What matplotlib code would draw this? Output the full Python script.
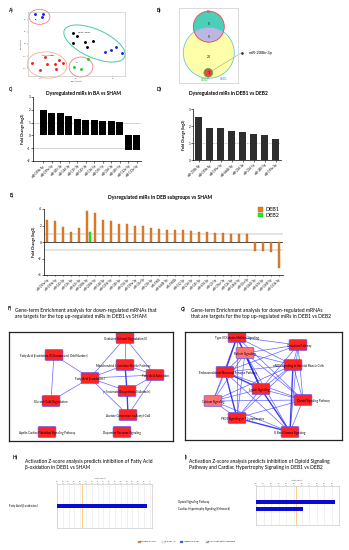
import numpy as np
import matplotlib
matplotlib.use("Agg")
import matplotlib.pyplot as plt
from matplotlib.patches import Ellipse, Circle, FancyBboxPatch, Rectangle

plt.rcParams['font.family'] = ['Lato', 'DejaVu Sans']

# ---------------- data ----------------
# A) PCA scores
pca_blue_x = [-8.6, -6.9, -7.1, 5.9, 7.1, 8.2, 9.4]
pca_blue_y = [6.2, 6.2, 5.6, -1.6, -1.2, -0.6, -1.9]
pca_black_x = [-0.8, 0.2, 1.7, 3.5, -0.7, 2.2]
pca_black_y = [2.3, 1.7, 0.35, 0.7, 0.15, -0.7]
pca_red_x = [-9.2, -6.5, -6.0, -4.4, -3.6, -2.7, -4.2, -7.5]
pca_red_y = [-3.9, -2.7, -4.1, -4.1, -3.3, -4.0, -5.2, -5.4]
pca_green_x = [-0.45, 0.9, 2.4]
pca_green_y = [-4.7, -5.2, -3.15]
pca_group_labels = ['BA', 'DEB1 + DEB2', 'SHAM + DEB2', 'SH']

# B) Venn counts: BA only, BA&DEB1, DEB1 only, DEB1&DEB2
venn_sets = ['BA', 'DEB1', 'DEB2']
venn_counts = [5, 5, 20, 1]
venn_note = 'miR-208b-3p'

# C) BA vs SHAM
c_labels = ['miR-199b-5p', 'miR-199a-5p', 'miR-455-3p', 'miR-144-3p', 'miR-125-3p',
            'miR-143-3p', 'miR-136-5p', 'miR-195-5p', 'miR-214-3p', 'miR-455-5p',
            'miR-122a-5p', 'miR-133a-5p']
c_values = [1.97, 1.72, 1.72, 1.5, 1.32, 1.22, 1.22, 1.13, 1.12, 1.07, -1.15, -1.15]

# D) DEB1 vs DEB2
d_labels = ['miR-208b-3p', 'miR-199b-5p', 'miR-199a-5p', 'miR-6644-3p', 'miR-214-3p',
            'miR-214-5p', 'miR-340-5p', 'miR-199a-3p']
d_values = [2.52, 1.87, 1.87, 1.74, 1.68, 1.56, 1.48, 1.24]

# E) DEB subgroups vs SHAM
e_labels = ['miR-199a-5p', 'miR-199b-5p', 'miR-143-3p', 'miR-136-5p', 'miR-455-5p',
            'miR-208b-3p', 'miR-208b-5p', 'miR-144-5p', 'miR-125b-5p', 'miR-340-5p',
            'miR-214-5p', 'miR-199a-3p', 'miR-34a-5p', 'miR-218-5p', 'miR-1983',
            'miR-6644-3p', 'miR-1983b', 'miR-152-3p', 'miR-214-3p', 'miR-145-5p',
            'miR-674-3p', 'miR-22-5p', 'miR-376c-3p', 'miR-126-5p', 'miR-146b-5p',
            'miR-10a-5p', 'miR-1843-3p', 'miR-674-5p', 'miR-3568-5p', 'miR-133b-3p']
e_deb1 = [2.63, 2.5, 1.82, 1.17, 1.7, 3.76, 3.56, 2.68, 2.5, 2.22,
          2.14, 1.9, 1.9, 1.7, 1.58, 1.45, 1.45, 1.45, 1.33, 1.21,
          1.21, 1.09, 1.05, 1.01, 0.97, 1.01, -1.13, -1.13, -1.25, -3.2]
e_deb2 = [np.nan] * 5 + [1.21] + [np.nan] * 24

# F) network
f_nodes = ['Oxidative Ethanol Degradation III',
           'Fatty Acid β-oxidation III (Unsaturated, Odd Number)',
           'Mitochondrial L-carnitine Shuttle Pathway',
           'Fatty Acid β-oxidation I',
           'Fatty Acid Activation',
           'γ-linolenate Biosynthesis II (Animals)',
           'Glutaryl-CoA Degradation',
           'Acetate Conversion to Acetyl-CoA',
           'Apelin Cardiac Fibroblast Signaling Pathway',
           'Dopamine Receptor Signaling']
f_edges = [(0, 2), (0, 3), (0, 4), (1, 3), (1, 6), (2, 3), (2, 4), (3, 4),
           (3, 5), (3, 6), (3, 7), (4, 5), (4, 7)]
f_thick = [(2, 5), (5, 7)]

# G) network
g_nodes = ['Type II Diabetes Mellitus Signaling', 'Relaxin Signaling', 'Ovulation Pathway',
           'nNOS Signaling in Skeletal Muscle Cells', 'Endocannabinoid Neuronal Synapse Pathway',
           'Leptin Signaling', 'Calcium Signaling', 'Opioid Signaling Pathway',
           'PKCθ Signaling in T Lymphocytes', 'G Beta Gamma Signaling']
g_light = [1, 6]
g_missing = [(2, 6), (0, 9), (2, 8)]
g_thick = [(0, 5), (1, 5), (4, 8), (5, 9), (4, 5), (8, 9), (3, 9), (0, 4)]

# H) / I) z-score
h_terms = ['Fatty Acid β-oxidation I']
h_values = [4.66]
i_terms = ['Opioid Signaling Pathway', 'Cardiac Hypertrophy Signaling (Enhanced)']
i_values = [2.6, 1.55]

# ---------------- layout helpers ----------------
W, H = 349, 550
fig = plt.figure(figsize=(W / 100, H / 100), dpi=100)


def axpx(l, t, r, b):
    return fig.add_axes([l / W, 1 - b / H, (r - l) / W, (b - t) / H])


texts = []


def ftxt(x, y, s, **kw):
    texts.append((x, y, s, kw))


# ---------------- A ----------------
axA = axpx(28, 12, 125, 76)
axA.set_xlim(-10, 10)
axA.set_ylim(-6.6, 6.6)
axA.scatter(pca_blue_x, pca_blue_y, s=1.2, color='#2222dd', zorder=3)
axA.scatter(pca_black_x, pca_black_y, s=1.2, color='black', zorder=3)
axA.scatter(pca_red_x, pca_red_y, s=1.2, color='#ee2222', zorder=3)
axA.scatter(pca_green_x, pca_green_y, s=1.2, color='#22cc22', zorder=3)
for e in [Ellipse((-7.63, 5.6), 4.3, 3.1, ec='#f08080', fc='none', lw=0.6),
          Ellipse((3.71, 0.1), 13.6, 5.8, angle=-24, ec='#44ccaa', fc='none', lw=0.7),
          Ellipse((-6.08, -4.33), 8.2, 5.4, angle=-5, ec='#f5b488', fc='none', lw=0.6),
          Ellipse((0.93, -4.74), 4.9, 4.1, ec='#f08080', fc='none', lw=0.6)]:
    e.set_clip_on(False)
    axA.add_patch(e)
for (x, y), s in zip([(-8.3, 5.0), (1.6, 2.3), (-5.9, -2.3), (0.2, -3.9)], pca_group_labels):
    axA.text(x, y, s, fontsize=1.4, ha='center', va='center')
axA.set_xticks([-7.5, 0, 7.5])
axA.set_yticks([-5, -2.5, 0, 2.5, 5])
axA.tick_params(labelsize=1.3, length=0.8, width=0.3, pad=0.5, colors='#555555')
for sp in axA.spines.values():
    sp.set_color('#bbbbbb')
    sp.set_linewidth(0.4)
axA.set_xlabel('PC1 (28.4%)', fontsize=1.4, labelpad=0.8)
axA.set_ylabel('PC2 (14.1%)', fontsize=1.4, labelpad=0.8)

# ---------------- B ----------------
axB = axpx(179, 8, 238, 83)
axB.set_xlim(179, 238)
axB.set_ylim(83, 8)
axB.set_xticks([])
axB.set_yticks([])
for sp in axB.spines.values():
    sp.set_color('#cccccc')
    sp.set_linewidth(0.5)
big = Circle((208.8, 52.8), 25.5, fc='#ffffaa', ec='none')
axB.add_patch(big)
axB.add_patch(Circle((208.8, 26.7), 15.5, fc='#4ccfb8', ec='none'))
inter = Circle((208.8, 26.7), 15.5, fc='#bcb6e2', ec='none')
axB.add_patch(inter)
inter.set_clip_path(big)
axB.add_patch(Circle((208.8, 52.8), 25.5, fill=False, ec='#66c4e4', lw=0.6))
axB.add_patch(Circle((208.8, 26.7), 15.5, fill=False, ec='#f04848', lw=0.6))
axB.add_patch(Circle((208.3, 72.8), 4.4, fc='#ee4444', ec='#44bb44', lw=0.5))
for (x, y), v in zip([(208.5, 24), (208.5, 36.7), (208.5, 57.3), (208.3, 72.7)], venn_counts):
    axB.text(x, y, str(v), fontsize=2.4, ha='center', va='center')
axB.text(208.5, 12.2, venn_sets[0], fontsize=2.2, color='#ee3333', ha='center', va='center')
axB.text(223.3, 78.8, venn_sets[1], fontsize=2.2, color='#3399dd', ha='center', va='center')
axB.text(204.3, 80.0, venn_sets[2], fontsize=2.2, color='#33bb33', ha='center', va='center')
axB.plot([212.5, 241.7], [70.5, 52.7], color='#999999', lw=0.35, clip_on=False)
axB.plot([241.7], [52.7], 'o', ms=0.9, color='#333333', clip_on=False)
ftxt(248.5, 52.7, venn_note, fontsize=3.0, ha='left', va='center')

# ---------------- C ----------------
axC = axpx(33, 97, 141, 161)
xc = np.arange(len(c_values))
axC.axhline(1, color='#cccccc', lw=0.6, zorder=0)
axC.axhline(-1, color='#cccccc', lw=0.6, zorder=0)
axC.bar(xc, c_values, width=0.78, color='black', zorder=2)
axC.set_ylim(-2, 3)
axC.set_xlim(-1.2, 11.5)
axC.set_yticks([-2, -1, 0, 1, 2, 3])
axC.set_xticks(xc)
axC.set_xticklabels(c_labels, rotation=45, ha='right', rotation_mode='anchor', fontsize=2.1)
axC.tick_params(axis='y', labelsize=2.2, length=1.2, width=0.4, pad=0.8)
axC.tick_params(axis='x', length=1.2, width=0.4, pad=0.8)
for s in ['top', 'right']:
    axC.spines[s].set_visible(False)
for s in ['left', 'bottom']:
    axC.spines[s].set_linewidth(0.5)
axC.set_ylabel('Fold Change (log2)', fontsize=2.6, weight='bold', labelpad=1.5)
ftxt(83, 94, 'Dysregulated miRs in BA vs SHAM', fontsize=3.5, weight='bold', ha='center', va='center')

# ---------------- D ----------------
axD = axpx(193, 109.3, 281, 160)
xd = np.arange(len(d_values))
axD.axhline(1, color='#aaaaaa', lw=0.5, ls=(0, (2, 1.5)), zorder=0)
axD.bar(xd, d_values, width=0.68, color='#2e2e2e', zorder=2)
axD.set_ylim(0, 3)
axD.set_xlim(-0.5, 7.5)
axD.set_yticks([0, 1, 2, 3])
axD.set_xticks(xd)
axD.set_xticklabels(d_labels, rotation=45, ha='right', rotation_mode='anchor', fontsize=2.1)
axD.tick_params(axis='y', labelsize=2.2, length=1.2, width=0.4, pad=0.8)
axD.tick_params(axis='x', length=1.2, width=0.4, pad=0.8)
for s in ['top', 'right']:
    axD.spines[s].set_visible(False)
for s in ['left', 'bottom']:
    axD.spines[s].set_linewidth(0.5)
axD.set_ylabel('Fold Change (log2)', fontsize=2.6, weight='bold', labelpad=1.5)
ftxt(228, 94, 'Dysregulated miRs in DEB1 vs DEB2', fontsize=3.5, weight='bold', ha='center', va='center')

# ---------------- E ----------------
axE = axpx(44, 209, 283, 275)
xe = np.arange(len(e_deb1))
axE.axhline(1, color='#dddddd', lw=1.1, zorder=0)
axE.axhline(-1, color='#dddddd', lw=1.1, zorder=0)
axE.axhline(0, color='black', lw=0.5, zorder=1)
axE.bar(xe, e_deb1, width=0.28, color='#ee7d22', edgecolor='#a45a1a', lw=0.25, zorder=2, label='DEB1')
axE.bar(xe + 0.38, e_deb2, width=0.28, color='#22ee22', edgecolor='#119911', lw=0.25, zorder=2, label='DEB2')
axE.set_ylim(-4, 4)
axE.set_xlim(-0.4, 29.5)
axE.set_yticks([-4, -2, 0, 2, 4])
axE.set_xticks(xe)
axE.set_xticklabels(e_labels, rotation=45, ha='right', rotation_mode='anchor', fontsize=2.0)
axE.tick_params(axis='y', labelsize=2.2, length=1.2, width=0.4, pad=0.8)
axE.tick_params(axis='x', length=1.0, width=0.4, pad=0.6)
for s in ['top', 'right']:
    axE.spines[s].set_visible(False)
for s in ['left', 'bottom']:
    axE.spines[s].set_linewidth(0.5)
axE.set_ylabel('Fold Change (log2)', fontsize=2.6, weight='bold', labelpad=1.5)
leg = axE.legend(loc='upper left', bbox_to_anchor=(0.88, 1.08), fontsize=4.0, frameon=False,
                 handlelength=1.0, handleheight=0.9, handletextpad=0.4, labelspacing=0.1,
                 borderpad=0.1)
ftxt(160, 198, 'Dysregulated miRs in DEB subgroups vs SHAM', fontsize=3.6, weight='bold',
     ha='center', va='center')


# ---------------- networks ----------------
def draw_network(ax, names, pos, label_dx, edges, thick, light, ext):
    l, t, r, b = ext
    ax.set_xlim(l, r)
    ax.set_ylim(b, t)
    ax.set_xticks([])
    ax.set_yticks([])
    for sp in ax.spines.values():
        sp.set_linewidth(0.9)
        sp.set_color('#222222')
    for (i, j) in edges:
        ax.plot([pos[i][0], pos[j][0]], [pos[i][1], pos[j][1]], color='#4a4aff',
                lw=0.5, alpha=0.85, zorder=1)
    for (i, j) in thick:
        ax.plot([pos[i][0], pos[j][0]], [pos[i][1], pos[j][1]], color='#2a2aee',
                lw=1.0, alpha=0.9, zorder=1)
    for k, name in enumerate(names):
        x, y = pos[k]
        fc = '#ff7070' if k in light else '#ff2424'
        ax.add_patch(FancyBboxPatch((x - 8.5, y - 5), 17, 10, boxstyle='round,pad=0.4,rounding_size=1',
                                    fc=fc, ec='#5050ff', lw=0.45, zorder=2))
        ax.text(x + label_dx[k], y + 1, name, fontsize=2.1, ha='center', va='center', zorder=3)


axF = axpx(9, 332, 173, 441)
f_pos = [(125, 338), (54, 355), (125, 365), (90, 378), (155, 375), (127, 391),
         (51, 401), (128, 415), (47, 432), (122, 432)]
f_dx = [0, 0, -2, 0, 0, 0, 0, 0, 0, 0]
draw_network(axF, f_nodes, f_pos, f_dx, f_edges, f_thick, [], (9, 332, 173, 441))

axG = axpx(185, 332, 342, 440)
g_pos = [(237, 337), (245, 353), (298, 345), (293, 365), (225, 372), (261, 389),
         (213, 401), (303, 400), (237, 418), (290, 432)]
g_dx = [0, 0, 1, 5, 3, -2, 0, 10, 5, 0]
g_edges = [(i, j) for i in range(len(g_nodes)) for j in range(i + 1, len(g_nodes))
           if (i, j) not in g_missing and (i, j) not in g_thick]
draw_network(axG, g_nodes, g_pos, g_dx, g_edges, g_thick, g_light, (185, 332, 342, 440))

ftxt(8, 308, 'F)', fontsize=3.4, weight='bold', ha='left', va='center')
ftxt(15, 313.5, 'Gene-term Enrichment analysis for down-regulated mRNAs that\n'
     'are targets for the top up-regulated miRs in DEB1 vs SHAM',
     fontsize=3.6, ha='left', va='center', linespacing=1.25)
ftxt(181, 309, 'G)', fontsize=3.4, weight='bold', ha='left', va='center')
ftxt(191, 313.5, 'Gene-term Enrichment analysis for down-regulated mRNAs\n'
     'that are targets for the top up-regulated miRs in DEB1 vs DEB2',
     fontsize=3.6, ha='left', va='center', linespacing=1.25)


# ---------------- H / I ----------------
def zbar(ax, values, ypos, xmax, ticks, thr, h):
    ax.barh(ypos, values, height=h, color='#0a0ad0', zorder=3)
    ax.set_xlim(0, xmax)
    ax.set_xticks(ticks)
    ax.set_xticklabels(['%.1f' % v for v in ticks])
    ax.xaxis.tick_top()
    ax.tick_params(axis='x', labelsize=1.3, length=0.8, width=0.3, pad=0.4, colors='#666666')
    ax.set_yticks([])
    ax.grid(axis='x', color='#e6e6e6', lw=0.4, zorder=0)
    ax.axvline(thr, color='#ffcc80', lw=0.7, zorder=1)
    for sp in ax.spines.values():
        sp.set_color('#cccccc')
        sp.set_linewidth(0.5)


axH = axpx(57, 484, 152, 528)
axH.set_ylim(3.14, -3.14)
zbar(axH, h_values, [0], 4.91, np.arange(0, 4.81, 0.3), 1.3, 0.45)
ftxt(100, 478, '-log(p-value)', fontsize=1.6, ha='center', va='center', color='#444444')
for k, term in enumerate(h_terms):
    ftxt(9, 506 + 7 * k, term, fontsize=2.0, ha='left', va='center')

axI = axpx(256, 486, 339, 525)
axI.set_ylim(3.29, -2.29)
zbar(axI, i_values, np.arange(len(i_values)), 2.73, np.arange(0, 2.51, 0.25), 1.3, 0.47)
ftxt(297, 480, '-log(p-value)', fontsize=1.6, ha='center', va='center', color='#444444')
for k, term in enumerate(i_terms):
    ftxt(178, 502 + 7 * k, term, fontsize=2.0, ha='left', va='center')

ftxt(13, 457, 'H)', fontsize=3.4, weight='bold', ha='left', va='center')
ftxt(25, 465, 'Activation Z-score analysis predicts inhibition of Fatty Acid\n'
     'β-oxidation in DEB1 vs SHAM', fontsize=3.5, ha='left', va='center', linespacing=1.25)
ftxt(185, 457, 'I)', fontsize=3.4, weight='bold', ha='left', va='center')
ftxt(189, 465, 'Activation Z-score analysis predicts inhibition of Opioid Signaling\n'
     'Pathway and Cardiac Hypertrophy Signaling in DEB1 vs DEB2', fontsize=3.5,
     ha='left', va='center', linespacing=1.25)

# legend for z-score panels
leg_items = [('Positive z-score', '#f08020', None), ('z-score = 0', 'white', None),
             ('Negative z-score', '#1f5fd0', None), ('No activity pattern available', 'white', '////')]

# ---------------- overlay (figure pixel coordinates) ----------------
axO = fig.add_axes([0, 0, 1, 1])
axO.set_xlim(0, W)
axO.set_ylim(H, 0)
axO.axis('off')
axO.patch.set_visible(False)
for x, y, s, kw in texts:
    axO.text(x, y, s, **kw)
for lab, (x, y) in zip(['A)', 'B)', 'C)', 'D)', 'E)'],
                       [(8, 10), (157, 10), (9, 89), (157, 89), (10, 195)]):
    axO.text(x, y, lab, fontsize=3.4, weight='bold', ha='left', va='center')
xs = [138, 162, 180, 206]
for (lab, col, hatch), x in zip(leg_items, xs):
    axO.add_patch(Rectangle((x, 540.5), 2.6, 2.6, fc=col, ec='#888888', lw=0.2, hatch=hatch))
    axO.text(x + 3.3, 541.8, lab, fontsize=1.5, ha='left', va='center')

fig.savefig('out.png', dpi=100)
